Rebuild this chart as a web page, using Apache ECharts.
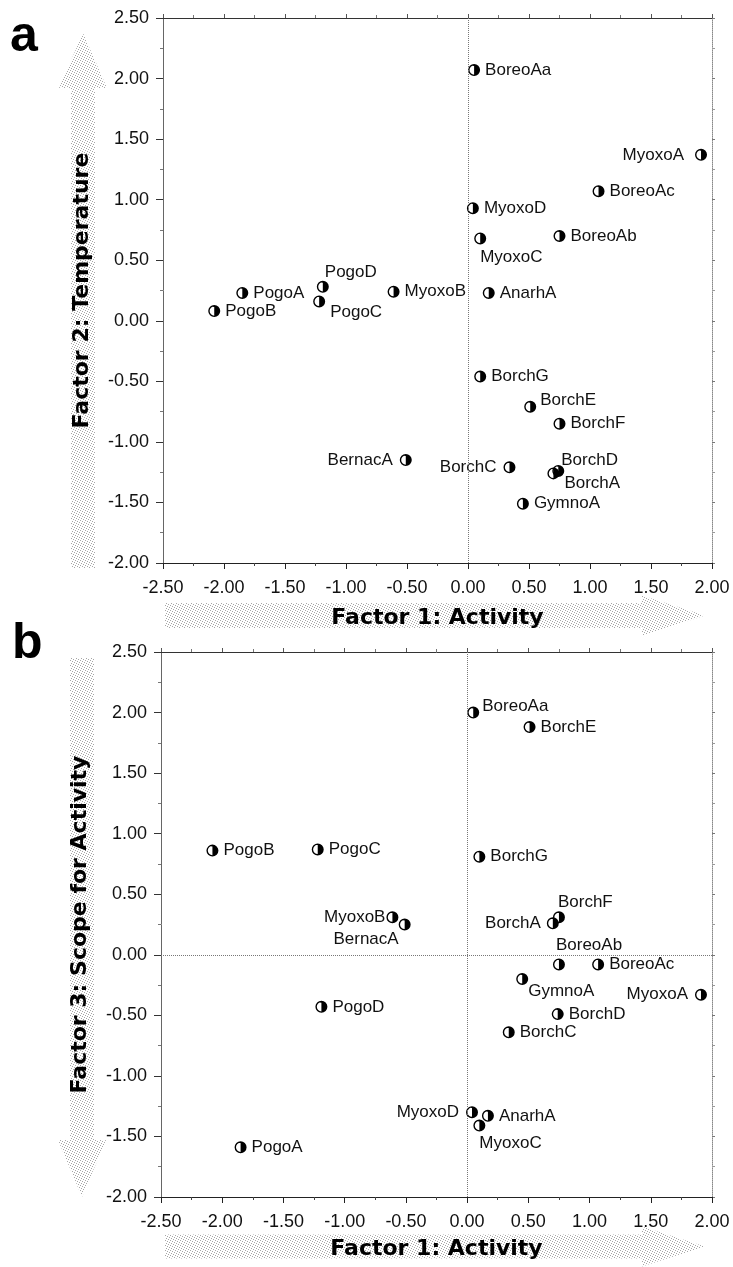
<!DOCTYPE html>
<html><head><meta charset="utf-8">
<script src="https://cdn.jsdelivr.net/npm/echarts@6/dist/echarts.min.js"></script>
<style>html,body{margin:0;padding:0;background:#fff}#c{width:733px;height:1267px}</style>
</head><body><div id="c"></div>
<script>
// ---- data ----
const names   = ['PogoA','PogoB','PogoC','PogoD','MyoxoA','MyoxoB','MyoxoC','MyoxoD','BoreoAa','BoreoAb','BoreoAc','AnarhA','BernacA','BorchA','BorchC','BorchD','BorchE','BorchF','BorchG','GymnoA'];
const factor1 = [-1.85, -2.08, -1.22, -1.19, 1.91, -0.61, 0.10, 0.04, 0.05, 0.75, 1.07, 0.17, -0.51, 0.70, 0.34, 0.74, 0.51, 0.75, 0.10, 0.45];
const factor2 = [ 0.23,  0.08,  0.16,  0.28, 1.37,  0.24, 0.68, 0.93, 2.07, 0.70, 1.07, 0.23, -1.15, -1.26, -1.21, -1.24, -0.71, -0.85, -0.46, -1.51];
const factor3 = [-1.59,  0.86,  0.87, -0.43, -0.33, 0.31, -1.41, -1.30, 2.00, -0.08, -0.08, -1.33, 0.25, 0.26, -0.64, -0.49, 1.88, 0.31, 0.81, -0.20];
const xRange = [-2.5, 2.0];
const yRange = [-2.0, 2.5];
const tickStep = 0.5;
const xTitle = 'Factor 1: Activity';
const yTitleA = 'Factor 2: Temperature';
const yTitleB = 'Factor 3: Scope for Activity';
const panelLetters = ['a', 'b'];

// ---- label placement (style) ----
const labelA = {BoreoAa:'r', MyoxoA:['l',-4,0], BoreoAc:'r', MyoxoD:'r', BoreoAb:'r', MyoxoC:['b',0,4], AnarhA:'r', MyoxoB:'r',
  PogoD:['t',2,0], PogoC:['r',0,11], PogoA:'r', PogoB:'r', BorchG:'r', BorchE:['r',-1,-6], BorchF:'r', BernacA:'l', BorchC:'l',
  BorchD:['r',-8,-11], BorchA:['r',0,10], GymnoA:'r'};
const labelB = {PogoB:'r', PogoC:'r', BoreoAa:['r',-2,-6], BorchE:'r', BorchG:'r', BorchF:['t',-1,0], BorchA:['l',1,0], MyoxoB:['l',6,0],
  BernacA:['l',7,15], BoreoAb:['t',-3,-5], BoreoAc:'r', GymnoA:['r',-5,12], MyoxoA:'l', BorchD:'r', BorchC:'r', MyoxoD:'l',
  AnarhA:'r', MyoxoC:['b',0,3], PogoD:'r', PogoA:'r'};

const FONT = 'Liberation Sans, Arial, Helvetica, sans-serif';
const MARKER = 'path://M6,0A6,6 0 0 1 6,12Z M6,0A6,6 0 0 0 6,12L6,10.6A4.6,4.6 0 0 1 6,1.4Z';

function labelCfg(spec){
  const s = Array.isArray(spec) ? spec : [spec, 0, 0];
  const base = {show:true, formatter: p => p.name, fontFamily: FONT, fontSize: 17, color:'#111', lineHeight:17, offset:[s[1], s[2]]};
  if (s[0] === 'r') return Object.assign(base, {position:'right', distance:5});
  if (s[0] === 'l') return Object.assign(base, {position:'left', distance:7});
  if (s[0] === 't') return Object.assign(base, {position:'top', distance:0, align:'left'});
  return Object.assign(base, {position:'bottom', distance:0, align:'left'});
}

function seriesData(ys, labels){
  return names.map((n, i) => ({name: n, value: [factor1[i], ys[i]], label: labelCfg(labels[n])}));
}

const fmt = v => v.toFixed(2);

function axesFor(g, yTitle, xNameGap){
  const lbl = {fontFamily: FONT, fontSize: 18, color: '#111'};
  const titleStyle = {fontFamily: 'DejaVu Sans', fontWeight: 'bold', fontSize: 22, color: '#000'};
  const x = [
    {gridIndex:g, type:'value', min:xRange[0], max:xRange[1], interval:tickStep, position:'bottom',
     axisLine:{onZero:false, lineStyle:{color:'#222', width:1}},
     axisTick:{show:true, length:6, lineStyle:{color:'#222'}},
     minorTick:{show:true, splitNumber:2, length:3, lineStyle:{color:'#444'}},
     axisLabel:{formatter: fmt, margin:16, ...lbl},
     splitLine:{show:false},
     name: xTitle, nameLocation:'middle', nameGap: xNameGap, nameTextStyle: titleStyle},
    {gridIndex:g, type:'value', min:xRange[0], max:xRange[1], interval:tickStep, position:'top',
     axisLine:{onZero:false, lineStyle:{color:'#333', width:1}},
     axisTick:{show:true, length:4, lineStyle:{color:'#555'}},
     minorTick:{show:true, splitNumber:2, length:3, lineStyle:{color:'#777'}},
     axisLabel:{show:false}, splitLine:{show:false}}
  ];
  const y = [
    {gridIndex:g, type:'value', min:yRange[0], max:yRange[1], interval:tickStep, position:'left',
     axisLine:{onZero:false, lineStyle:{color:'#666', width:1}},
     axisTick:{show:true, length:7, lineStyle:{color:'#333'}},
     minorTick:{show:true, splitNumber:2, length:3, lineStyle:{color:'#777'}},
     axisLabel:{formatter: fmt, margin:14, ...lbl},
     splitLine:{show:false},
     name: yTitle, nameLocation:'middle', nameGap: 70, nameTextStyle: titleStyle},
    {gridIndex:g, type:'value', min:yRange[0], max:yRange[1], interval:tickStep, position:'right',
     axisLine:{onZero:false, lineStyle:{color:'#888', width:1, type:'dotted'}},
     axisTick:{show:true, length:3, lineStyle:{color:'#777'}},
     minorTick:{show:true, splitNumber:2, length:3, lineStyle:{color:'#999'}},
     axisLabel:{show:false}, splitLine:{show:false}}
  ];
  return {x, y};
}

function makePattern(){
  const c = document.createElement('canvas'); c.width = 5; c.height = 5;
  const g = c.getContext('2d'); g.fillStyle = '#a6a6a6';
  [[0,0],[2,1],[4,2],[1,3],[3,4]].forEach(p => g.fillRect(p[0], p[1], 1, 1));
  return c;
}
const pat = {image: makePattern(), repeat: 'repeat'};

function hArrow(x0, x1, xh, yc, sh, hh){
  return {type:'polygon', silent:true, z:-10, shape:{points:[[x0,yc-sh],[xh,yc-sh],[xh,yc-hh],[x1,yc],[xh,yc+hh],[xh,yc+sh],[x0,yc+sh]]}, style:{fill:pat}};
}
function vArrow(xc, yTip, yh, yEnd, sw, hw){
  return {type:'polygon', silent:true, z:-10, shape:{points:[[xc-sw,yEnd],[xc-sw,yh],[xc-hw,yh],[xc,yTip],[xc+hw,yh],[xc+sw,yh],[xc+sw,yEnd]]}, style:{fill:pat}};
}

const A = axesFor(0, yTitleA, 44);
const B = axesFor(1, yTitleB, 41);

const dotted = {color:'#777', type:'dotted', width:1};

const option = {
  backgroundColor:'#fff',
  animation:false,
  grid:[
    {left:163, top:18, width:549, height:545},
    {left:161, top:652, width:551, height:545}
  ],
  xAxis:[...A.x, ...B.x],
  yAxis:[...A.y, ...B.y],
  graphic:[
    vArrow(83, 33, 88, 568, 12, 24),
    hArrow(165, 705, 642, 615.5, 12.5, 20),
    vArrow(82, 1197, 1140, 658, 12, 24),
    hArrow(165, 705, 642, 1246.5, 12, 20),
    {type:'text', x:10, y:37.5, style:{text:panelLetters[0], font:'bold 50px Liberation Sans', fill:'#000', verticalAlign:'middle'}},
    {type:'text', x:12, y:644.5, style:{text:panelLetters[1], font:'bold 50px Liberation Sans', fill:'#000', verticalAlign:'middle'}}
  ],
  series:[
    {type:'scatter', xAxisIndex:0, yAxisIndex:0, symbol:MARKER, symbolSize:12,
     itemStyle:{color:'#000', opacity:1}, data: seriesData(factor2, labelA),
     markLine:{silent:true, symbol:'none', label:{show:false}, lineStyle:dotted, data:[{xAxis:0}]}},
    {type:'scatter', xAxisIndex:2, yAxisIndex:2, symbol:MARKER, symbolSize:12,
     itemStyle:{color:'#000', opacity:1}, data: seriesData(factor3, labelB),
     markLine:{silent:true, symbol:'none', label:{show:false}, lineStyle:dotted, data:[{xAxis:0},{yAxis:0}]}}
  ]
};
const chart = echarts.init(document.getElementById('c'), null, {renderer:'canvas'});
chart.setOption(option);
</script>
</body></html>
